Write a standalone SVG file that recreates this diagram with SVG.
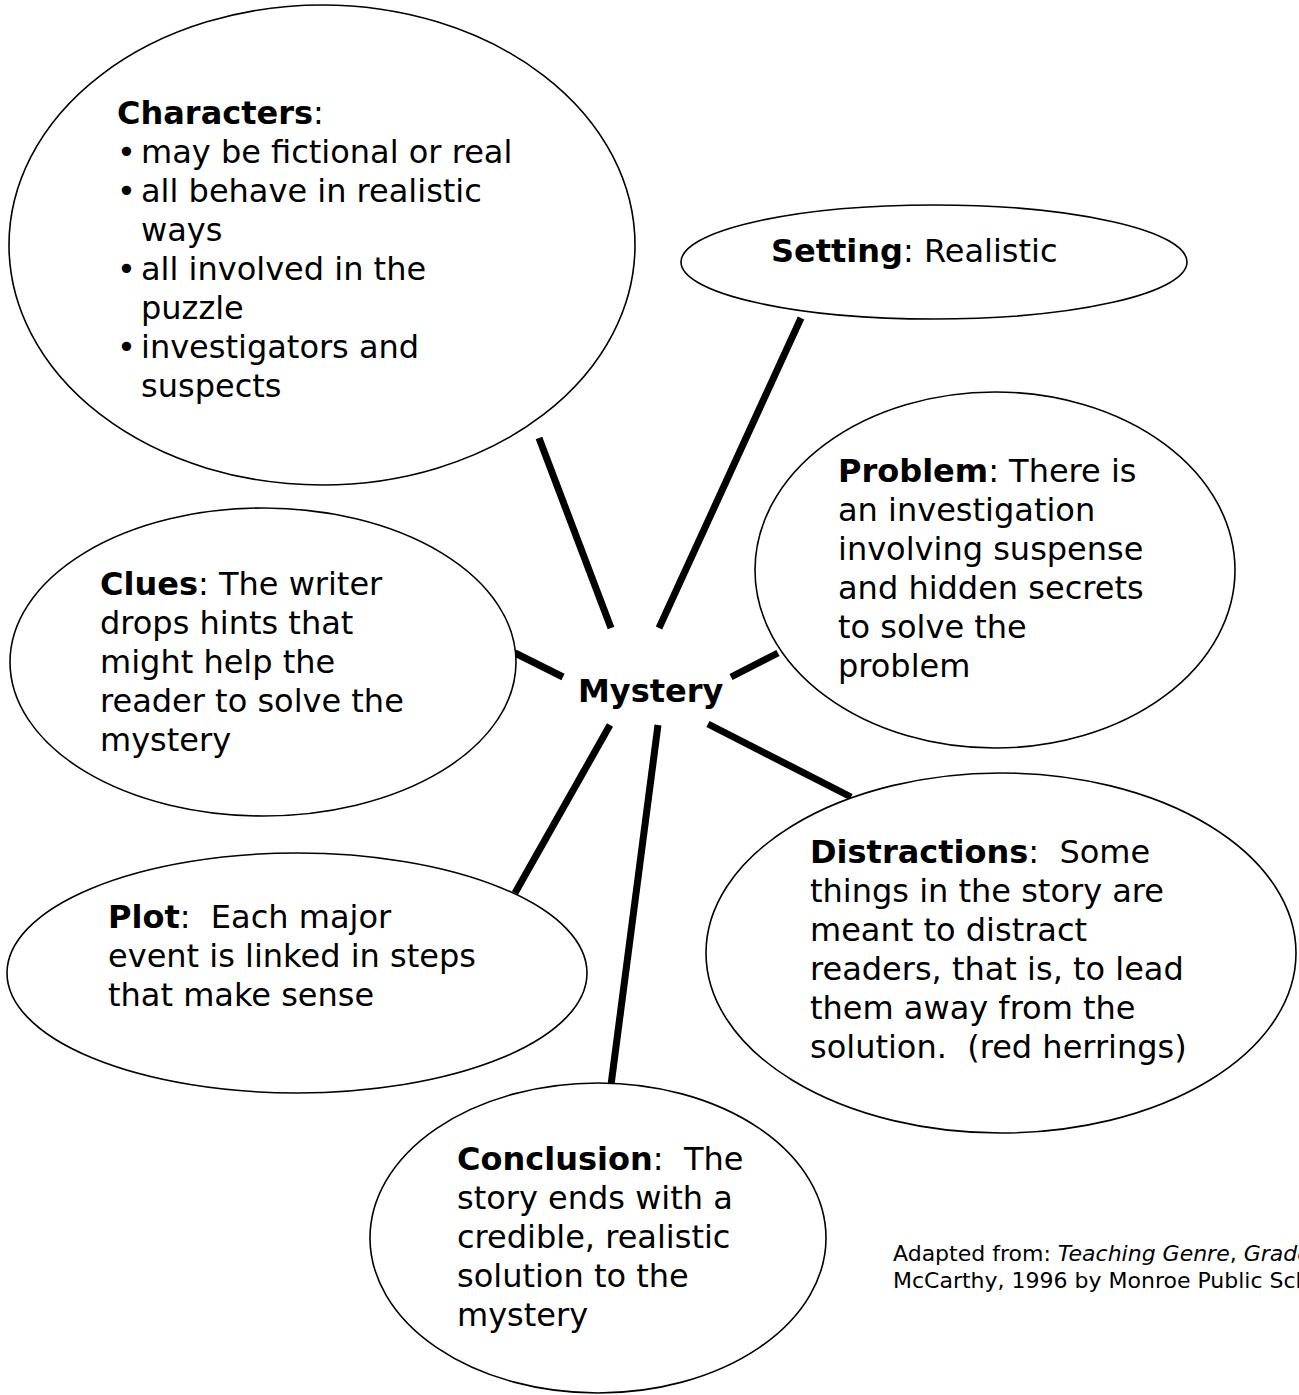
<svg xmlns="http://www.w3.org/2000/svg" width="1299" height="1395" viewBox="0 0 1299 1395">
  <style>
    .bubble { fill: #ffffff; stroke: #000000; stroke-width: 1.6; }
    .txt { font-family: "DejaVu Sans", Verdana, sans-serif; font-size: 32px; fill: #000000; white-space: pre; }
    .b { font-weight: bold; }
    .note { font-family: "DejaVu Sans", Verdana, sans-serif; font-size: 22px; fill: #000000; white-space: pre; }
    .i { font-style: italic; }
    .spoke { stroke: #000000; stroke-width: 7; stroke-linecap: butt; fill: none; }
  </style>
  <rect x="0" y="0" width="1299" height="1395" fill="#ffffff"/>

  <!-- spokes from the central topic out to each bubble -->
  <g id="connectors">
    <line class="spoke" x1="539" y1="438" x2="611" y2="628"/>
    <line class="spoke" x1="801" y1="318" x2="659" y2="628"/>
    <line class="spoke" x1="515" y1="653" x2="563" y2="677"/>
    <line class="spoke" x1="778" y1="653" x2="731" y2="677"/>
    <line class="spoke" x1="610" y1="725" x2="515" y2="893"/>
    <line class="spoke" x1="658" y1="725" x2="611" y2="1085"/>
    <line class="spoke" x1="708" y1="724" x2="851" y2="797"/>
  </g>

  <g id="characters">
    <ellipse class="bubble" cx="322" cy="245" rx="313" ry="240"/>
    <text class="txt" x="117" y="124"><tspan class="b">Characters</tspan>:</text>
    <text class="txt">
      <tspan x="117" y="163">•</tspan><tspan x="141" y="163">may be fictional or real</tspan>
      <tspan x="117" y="202">•</tspan><tspan x="141" y="202">all behave in realistic</tspan>
      <tspan x="141" y="241">ways</tspan>
      <tspan x="117" y="280">•</tspan><tspan x="141" y="280">all involved in the</tspan>
      <tspan x="141" y="319">puzzle</tspan>
      <tspan x="117" y="358">•</tspan><tspan x="141" y="358">investigators and</tspan>
      <tspan x="141" y="397">suspects</tspan>
    </text>
  </g>

  <g id="setting">
    <ellipse class="bubble" cx="934" cy="262" rx="253" ry="57"/>
    <text class="txt" x="771" y="262"><tspan class="b">Setting</tspan>: Realistic</text>
  </g>

  <g id="problem">
    <ellipse class="bubble" cx="995" cy="570" rx="240" ry="178"/>
    <text class="txt">
      <tspan x="838" y="482"><tspan class="b">Problem</tspan>: There is</tspan>
      <tspan x="838" y="521">an investigation</tspan>
      <tspan x="838" y="560">involving suspense</tspan>
      <tspan x="838" y="599">and hidden secrets</tspan>
      <tspan x="838" y="638">to solve the</tspan>
      <tspan x="838" y="677">problem</tspan>
    </text>
  </g>

  <g id="clues">
    <ellipse class="bubble" cx="263" cy="662" rx="253" ry="154"/>
    <text class="txt">
      <tspan x="100" y="595"><tspan class="b">Clues</tspan>: The writer</tspan>
      <tspan x="100" y="634">drops hints that</tspan>
      <tspan x="100" y="673">might help the</tspan>
      <tspan x="100" y="712">reader to solve the</tspan>
      <tspan x="100" y="751">mystery</tspan>
    </text>
  </g>

  <g id="mystery">
    <text class="txt b" x="578" y="702">Mystery</text>
  </g>

  <g id="plot">
    <ellipse class="bubble" cx="297" cy="973" rx="290" ry="120"/>
    <text class="txt">
      <tspan x="108" y="928"><tspan class="b">Plot</tspan>:  Each major</tspan>
      <tspan x="108" y="967">event is linked in steps</tspan>
      <tspan x="108" y="1006">that make sense</tspan>
    </text>
  </g>

  <g id="distractions">
    <ellipse class="bubble" cx="1001" cy="953" rx="295" ry="180"/>
    <text class="txt">
      <tspan x="810" y="863"><tspan class="b">Distractions</tspan>:  Some</tspan>
      <tspan x="810" y="902">things in the story are</tspan>
      <tspan x="810" y="941">meant to distract</tspan>
      <tspan x="810" y="980">readers, that is, to lead</tspan>
      <tspan x="810" y="1019">them away from the</tspan>
      <tspan x="810" y="1058">solution.  (red herrings)</tspan>
    </text>
  </g>

  <g id="conclusion">
    <ellipse class="bubble" cx="598" cy="1238" rx="228" ry="155"/>
    <text class="txt">
      <tspan x="457" y="1170"><tspan class="b">Conclusion</tspan>:  The</tspan>
      <tspan x="457" y="1209">story ends with a</tspan>
      <tspan x="457" y="1248">credible, realistic</tspan>
      <tspan x="457" y="1287">solution to the</tspan>
      <tspan x="457" y="1326">mystery</tspan>
    </text>
  </g>

  <g id="source-note">
    <text class="note" x="893" y="1261">Adapted from: <tspan class="i">Teaching Genre</tspan>, <tspan class="i">Grade</tspan></text>
    <text class="note" x="893" y="1288">McCarthy, 1996 by Monroe Public Sch</text>
  </g>
</svg>
